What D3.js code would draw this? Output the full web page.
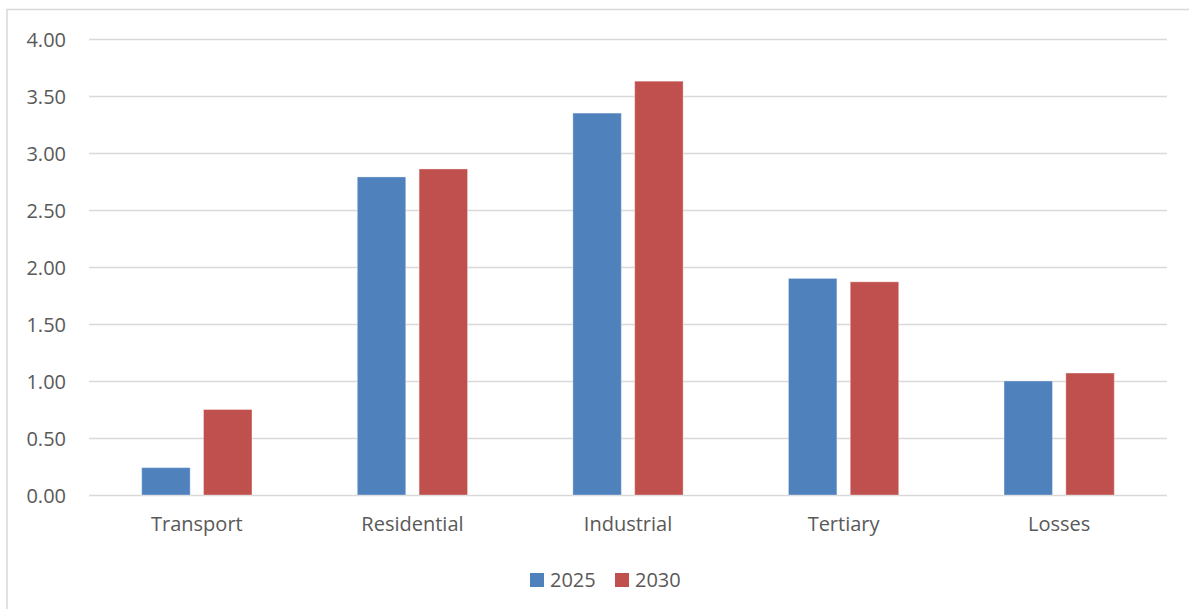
<!DOCTYPE html>
<html>
<head>
<meta charset="utf-8">
<script src="https://cdn.jsdelivr.net/npm/d3@7"></script>
<style>
  html, body { margin: 0; padding: 0; background: #fff; }
  svg { display: block; }
  text { font-family: "Open Sans", "Noto Sans", sans-serif; fill: #595959; }
</style>
</head>
<body>
<svg id="chart" width="1189" height="609"></svg>
<script>
// Electricity demand by sector
const categories = ["Transport", "Residential", "Industrial", "Tertiary", "Losses"];
const seriesNames = ["2025", "2030"];
const values2025 = [0.24, 2.79, 3.35, 1.90, 1.00];
const values2030 = [0.75, 2.86, 3.63, 1.87, 1.07];
const yTicks = [0, 0.5, 1, 1.5, 2, 2.5, 3, 3.5, 4];
const seriesColors = ["#4F81BD", "#C0504D"];

const rows = categories.map((c, i) => ({ category: c, values: [values2025[i], values2030[i]] }));

const svg = d3.select("#chart");
const plot = { left: 89, right: 1167, top: 39, bottom: 495 };

// Chart frame (only its top and left edges fall inside the page)
svg.append("rect")
  .attr("x", 7).attr("y", 9.5)
  .attr("width", 1300).attr("height", 700)
  .attr("fill", "#fff")
  .attr("stroke", "#d9d9d9").attr("stroke-width", 1.5);

const y = d3.scaleLinear().domain([0, 4]).range([plot.bottom, plot.top]);
const x0 = d3.scaleBand().domain(categories).range([plot.left, plot.right]).paddingInner(0.4885).paddingOuter(0.2445);
const x1 = d3.scaleBand().domain(seriesNames).range([0, x0.bandwidth()]).paddingInner(0.216);

// Gridlines and y labels
const yAxis = d3.axisLeft(y).tickValues(yTicks).tickFormat(d3.format(".2f"))
  .tickSize(-(plot.right - plot.left)).tickPadding(23);
const gy = svg.append("g").attr("transform", `translate(${plot.left},0)`).call(yAxis);
gy.select(".domain").remove();
gy.selectAll(".tick line").attr("stroke", "#d9d9d9").attr("stroke-width", 1.5);
gy.selectAll(".tick text")
  .attr("font-size", 20)
  .attr("fill", "#595959")
  .attr("dy", "0.35em");

// Category labels
const xAxis = d3.axisBottom(x0).tickSize(0).tickPadding(22);
const gx = svg.append("g").attr("transform", `translate(0,${plot.bottom})`).call(xAxis);
gx.select(".domain").remove();
gx.selectAll(".tick text").attr("font-size", 20).attr("fill", "#595959").attr("dy", "0.71em");

// Bars
const groups = svg.append("g").selectAll("g")
  .data(rows).join("g")
  .attr("transform", d => `translate(${x0(d.category)},0)`);

groups.selectAll("rect")
  .data(d => d.values.map((v, i) => ({ key: seriesNames[i], value: v, i })))
  .join("rect")
  .attr("x", d => x1(d.key))
  .attr("width", x1.bandwidth())
  .attr("y", d => y(d.value))
  .attr("height", d => y(0) - y(d.value))
  .attr("fill", d => seriesColors[d.i])
  .attr("stroke", "rgba(255,255,255,0.35)")
  .attr("stroke-width", 1);

// Legend
const legendItems = [{ name: "2025", x: 530 }, { name: "2030", x: 615 }];
const lg = svg.append("g");
legendItems.forEach((it, i) => {
  lg.append("rect")
    .attr("x", it.x).attr("y", 573)
    .attr("width", 14).attr("height", 14)
    .attr("fill", seriesColors[i]);
  lg.append("text")
    .attr("x", it.x + 20).attr("y", 587)
    .attr("font-size", 20)
    .text(it.name);
});
</script>
</body>
</html>
